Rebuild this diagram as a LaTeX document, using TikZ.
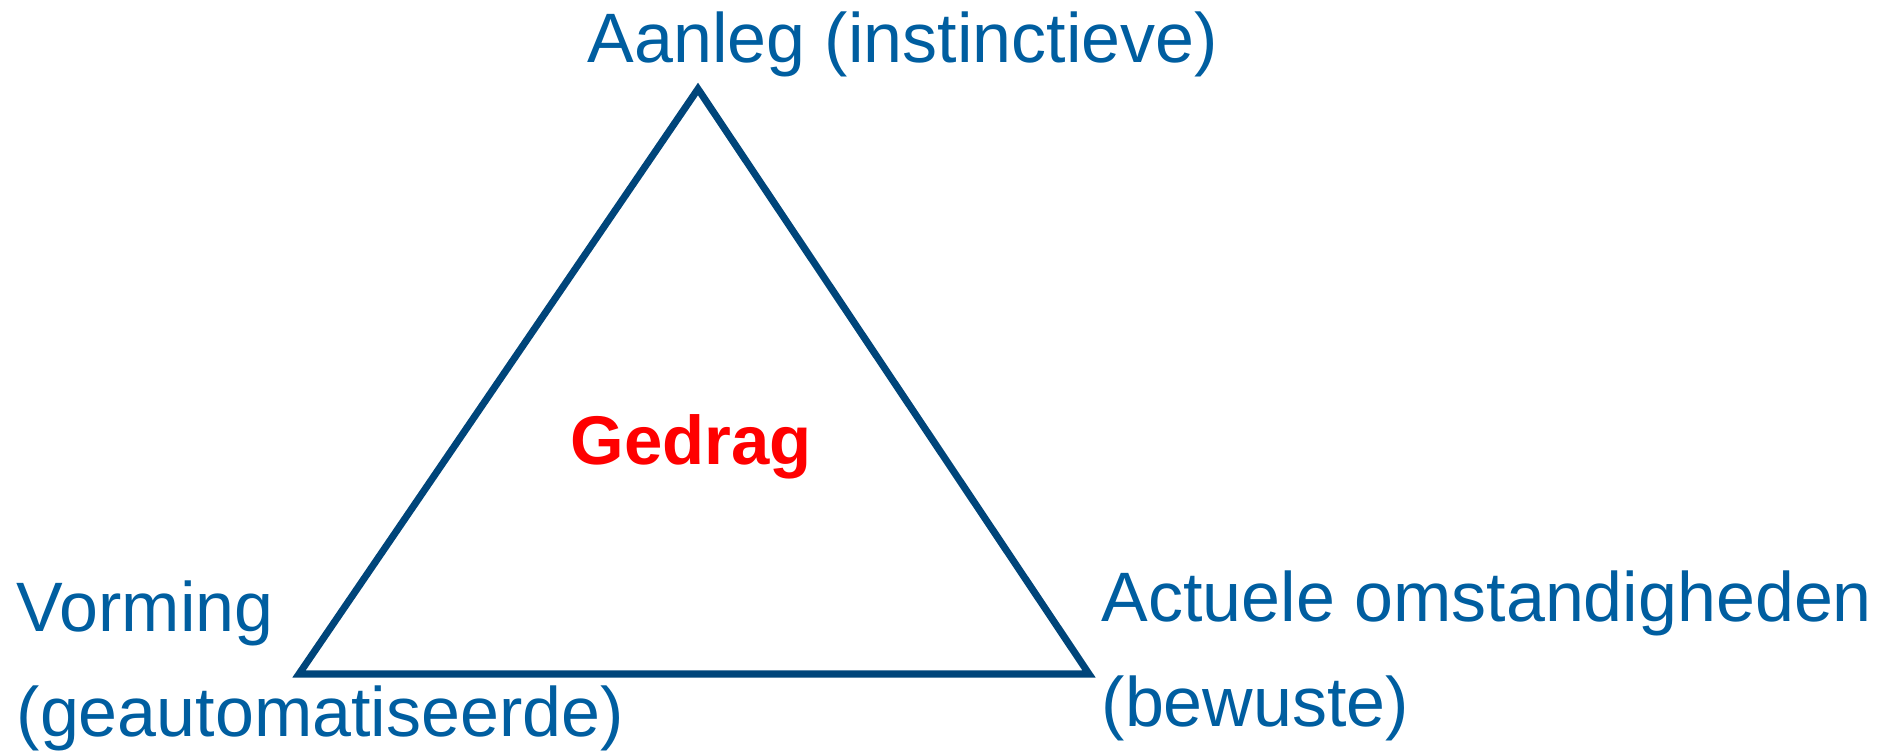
\documentclass[tikz,border=0pt]{standalone}
\usepackage{fontspec}
\setmainfont{Liberation Sans}
\definecolor{labelblue}{RGB}{0,94,160}
\definecolor{edgeblue}{RGB}{0,69,122}
\definecolor{gedragred}{RGB}{255,0,0}
\tikzset{
  corner/.style={anchor=base west,inner sep=0pt,align=left,text=labelblue,
    font=\fontsize{19.9}{29.9}\selectfont},
}
\begin{document}
\begin{tikzpicture}[x=0.01cm,y=0.01cm]
\useasboundingbox (0,0) rectangle (1894,752);

\coordinate (top) at (698,663);
\coordinate (left) at (299,78);
\coordinate (right) at (1089,78);
\draw[edgeblue,line width=2pt,line join=miter] (top) -- (left) -- (right) -- cycle;

% base of a two-line node is its last line
\node[corner] (aanleg) at (587,689) {Aanleg (instinctieve)};
\node[corner] (vorming) at (16,15) {Vorming\\(geautomatiseerde)};
\node[corner] (actueel) at (1101,25) {Actuele omstandigheden\\(bewuste)};

\node[anchor=base west,inner sep=0pt,text=gedragred,
  font=\fontsize{19.6}{23}\selectfont\bfseries] (gedrag) at (570,287) {Gedrag};
\end{tikzpicture}
\end{document}
